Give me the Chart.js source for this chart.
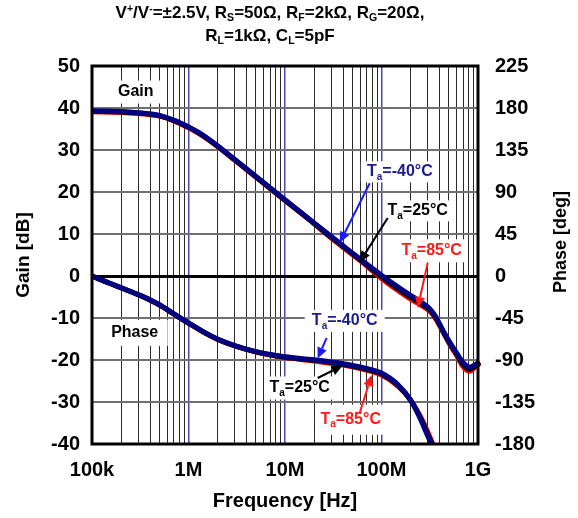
<!DOCTYPE html>
<html>
<head>
<meta charset="utf-8">
<script src="https://cdn.jsdelivr.net/npm/chart.js@4.4.1/dist/chart.umd.min.js"></script>
<style>
  html, body { margin: 0; padding: 0; background: #fff; }
  #wrap { position: relative; width: 578px; height: 518px; }
  #chart { position: absolute; left: 0; top: 0; }
  #title {
    position: absolute; left: 0; top: 1px; width: 540px; text-align: center;
    font: bold 17px "Liberation Sans", Arial, sans-serif; line-height: 23px; color: #000;
  }
  #title sub, #title sup { font-size: 0.62em; line-height: 0; }
  #title sup { vertical-align: 0.6em; }
  #title sub { vertical-align: -0.3em; }
</style>
</head>
<body>
<div id="wrap">
  <canvas id="chart" width="578" height="518"></canvas>
  <div id="title">
    <div>V<sup>+</sup>/V<sup>-</sup>=±2.5V, R<sub>S</sub>=50Ω, R<sub>F</sub>=2kΩ, R<sub>G</sub>=20Ω,</div>
    <div>R<sub>L</sub>=1kΩ, C<sub>L</sub>=5pF</div>
  </div>
</div>
<script>
// ---- axis ticks ----
const xTickValues = [1e5, 1e6, 1e7, 1e8, 1e9];
const xTickLabels = ['100k', '1M', '10M', '100M', '1G'];
const gainAxisTicks = [-40, -30, -20, -10, 0, 10, 20, 30, 40, 50];
const phaseAxisTicks = [-180, -135, -90, -45, 0, 45, 90, 135, 180, 225];

// ---- gain (dB) vs frequency (Hz) ----
const gainFreq = [1e5, 2e5, 3e5, 4e5, 5e5, 7e5, 1e6, 1.3e6, 1.6e6, 2e6,
                  3e6, 4e6, 6e6, 1e7, 2e7, 3e7, 4e7, 6e7, 1e8, 1.4e8,
                  2e8, 2.5e8, 3.16e8, 3.6e8, 4e8, 4.35e8, 5.1e8, 6e8, 7e8, 8.2e8,
                  9.25e8, 1.04e9];
const gainM40 = [39.3, 39.15, 38.9, 38.6, 38.25, 37.15, 35.5, 34.05, 32.65, 31.0,
                 27.8, 25.5, 22.25, 18.15, 12.65, 9.45, 7.2, 4.05, 0.2, -2.2,
                 -4.6, -6.0, -7.8, -9.5, -11.4, -13.0, -15.8, -18.3, -20.6, -21.7,
                 -21.2, -20.4];
const gain25 = [39.2, 39.05, 38.8, 38.5, 38.15, 37.05, 35.4, 33.95, 32.55, 30.9,
                27.7, 25.4, 22.15, 18.05, 12.55, 9.25, 7.0, 3.85, -0.2, -2.65,
                -5.05, -6.4, -8.1, -9.75, -11.6, -13.2, -16.05, -18.6, -21.1, -22.2,
                -21.5, -20.6];
const gain85 = [39.1, 38.95, 38.7, 38.4, 38.05, 36.95, 35.3, 33.85, 32.45, 30.8,
                27.6, 25.3, 22.05, 17.95, 12.45, 9.05, 6.8, 3.65, -0.6, -3.1,
                -5.5, -6.8, -8.4, -10.0, -11.8, -13.4, -16.3, -18.9, -21.6, -22.7,
                -21.8, -20.8];

// ---- phase (deg) vs frequency (Hz) ----
const phaseFreq = [1e5, 1.5e5, 2e5, 3e5, 4e5, 5e5, 7e5, 1e6, 1.5e6, 2e6, 3e6, 5e6,
                   7e6, 1e7, 2e7, 4e7, 6e7, 1e8, 1.5e8, 2e8, 2.5e8, 3e8, 3.4e8, 3.6e8];
const phaseM40 = [0, -7.5, -12.5, -19.8, -25.5, -30.8, -40.2, -50.2, -61, -67.5, -74.5, -81,
                  -84, -86.5, -89.8, -94, -97.5, -104, -117, -133, -152, -171, -184, -194];
const phase25 = [0, -7.55, -12.6, -19.95, -25.7, -31.0, -40.4, -50.4, -61.2, -67.7, -74.7, -81.3,
                 -84.4, -87, -90.4, -94.8, -98.4, -105, -117.8, -133, -150.7, -168.8, -182, -190];
const phase85 = [0, -7.6, -12.7, -20.1, -25.9, -31.2, -40.7, -50.7, -61.5, -68, -75, -81.6,
                 -84.8, -87.4, -91, -95.5, -99.3, -106.2, -118.5, -133, -149.5, -166.5, -180, -187];

const FONT = '"Liberation Sans", Arial, sans-serif';
const NAVY = '#000080', RED = '#ff0000', BLACK = '#000000';

const pts = (xs, ys) => xs.map((x, i) => ({ x, y: ys[i] }));

// every 1..9 multiple inside each decade for the vertical grid
const xGrid = [];
for (let i = 0; i < xTickValues.length - 1; i++) {
  for (let m = 1; m <= 9; m++) xGrid.push(m * xTickValues[i]);
}
xGrid.push(xTickValues[xTickValues.length - 1]);

function series(label, color, data, axis, extra) {
  return Object.assign({
    label, data, yAxisID: axis,
    borderColor: color, backgroundColor: color,
    borderWidth: 5, pointRadius: 0, fill: false,
    cubicInterpolationMode: 'monotone'
  }, extra || {});
}

const gainClip = { left: 3, top: 3, right: 6, bottom: 3 };

// text callouts with arrows, placed in data coordinates
const callouts = [
  { parts: ['Gain'], axis: 'y', at: [2.84e5, 43.8], color: '#000', box: [55, 23] },
  { parts: ['Phase'], axis: 'y2', at: [2.77e5, -61], color: '#000', box: [66, 26] },
  { parts: ['T', 'a', '=-40°C'], axis: 'y', at: [1.55e8, 24.8], color: '#1c1c8c', box: [78, 21],
    arrow: { from: [7.55e7, 22.1], to: [3.69e7, 7.9], color: '#1a1aff' } },
  { parts: ['T', 'a', '=25°C'], axis: 'y', at: [2.37e8, 15.5], color: '#000', box: [68, 21],
    arrow: { from: [1.16e8, 13.8], to: [5.94e7, 3.3], color: '#000' } },
  { parts: ['T', 'a', '=85°C'], axis: 'y', at: [3.31e8, 6.0], color: '#ff1a1a', box: [70, 23],
    arrow: { from: [3.01e8, 3.1], to: [2.37e8, -7.6], color: '#ff1a1a' } },
  { parts: ['T', 'a', '=-40°C'], axis: 'y2', at: [4.16e7, -48], color: '#1c1c8c', box: [80, 22],
    arrow: { from: [2.7e7, -66.4], to: [2.18e7, -88.5], color: '#1a1aff' } },
  { parts: ['T', 'a', '=25°C'], axis: 'y2', at: [1.42e7, -120], color: '#000', box: [70, 23],
    arrow: { from: [2.18e7, -109.3], to: [3.96e7, -96], color: '#000' } },
  { parts: ['T', 'a', '=85°C'], axis: 'y2', at: [4.8e7, -154], color: '#ff1a1a', box: [70, 30],
    arrow: { from: [5.94e7, -146.8], to: [7.9e7, -106], color: '#ff1a1a' } }
];

function drawParts(ctx, parts, cx, cy, color) {
  const main = 'bold 16px ' + FONT, small = 'bold 10px ' + FONT;
  const fonts = parts.length === 3 ? [main, small, main] : [main];
  const widths = parts.map((p, i) => { ctx.font = fonts[i]; return ctx.measureText(p).width; });
  const total = widths.reduce((a, b) => a + b, 0);
  let x = cx - total / 2;
  ctx.fillStyle = color;
  ctx.textAlign = 'left';
  ctx.textBaseline = 'middle';
  parts.forEach((p, i) => {
    ctx.font = fonts[i];
    ctx.fillText(p, x, cy + (parts.length === 3 && i === 1 ? 5 : 0));
    x += widths[i];
  });
}

function drawArrow(ctx, x0, y0, x1, y1, color) {
  const ang = Math.atan2(y1 - y0, x1 - x0);
  const L = 11, W = 5;
  const bx = x1 - L * Math.cos(ang), by = y1 - L * Math.sin(ang);
  ctx.strokeStyle = color;
  ctx.fillStyle = color;
  ctx.lineWidth = 2;
  ctx.beginPath();
  ctx.moveTo(x0, y0);
  ctx.lineTo(bx, by);
  ctx.stroke();
  ctx.beginPath();
  ctx.moveTo(x1, y1);
  ctx.lineTo(bx + W * Math.sin(ang), by - W * Math.cos(ang));
  ctx.lineTo(bx - W * Math.sin(ang), by + W * Math.cos(ang));
  ctx.closePath();
  ctx.fill();
}

const decorations = {
  id: 'decorations',
  beforeDatasetsDraw(chart) {
    const { ctx, scales } = chart;
    ctx.save();
    for (const c of callouts) {
      const px = scales.x.getPixelForValue(c.at[0]);
      const py = scales[c.axis].getPixelForValue(c.at[1]);
      ctx.fillStyle = '#fff';
      ctx.fillRect(px - c.box[0] / 2, py - c.box[1] / 2, c.box[0], c.box[1]);
      drawParts(ctx, c.parts, px, py, c.color);
    }
    ctx.restore();
  },
  afterDatasetsDraw(chart) {
    const { ctx, scales, chartArea: a } = chart;
    ctx.save();
    for (const c of callouts) {
      if (!c.arrow) continue;
      const s = scales[c.axis];
      drawArrow(ctx,
        scales.x.getPixelForValue(c.arrow.from[0]), s.getPixelForValue(c.arrow.from[1]),
        scales.x.getPixelForValue(c.arrow.to[0]), s.getPixelForValue(c.arrow.to[1]),
        c.arrow.color);
    }
    // plot frame
    ctx.strokeStyle = '#000';
    ctx.lineWidth = 3;
    ctx.strokeRect(a.left, a.top, a.right - a.left, a.bottom - a.top);
    // right axis title, reading bottom to top
    ctx.translate(561, (a.top + a.bottom) / 2 - 13);
    ctx.rotate(-Math.PI / 2);
    ctx.font = 'bold 18px ' + FONT;
    ctx.fillStyle = '#000';
    ctx.textAlign = 'center';
    ctx.textBaseline = 'middle';
    ctx.fillText('Phase [deg]', 0, 0);
    ctx.restore();
  }
};

const tickFont = { family: FONT, size: 20, weight: 'bold' };

new Chart(document.getElementById('chart'), {
  type: 'line',
  data: {
    datasets: [
      series('Ta=-40°C gain', NAVY, pts(gainFreq, gainM40), 'y', { clip: gainClip }),
      series('Ta=-40°C phase', NAVY, pts(phaseFreq, phaseM40), 'y2'),
      series('Ta=25°C gain', BLACK, pts(gainFreq, gain25), 'y', { clip: gainClip }),
      series('Ta=25°C phase', BLACK, pts(phaseFreq, phase25), 'y2'),
      series('Ta=85°C gain', RED, pts(gainFreq, gain85), 'y', { clip: gainClip }),
      series('Ta=85°C phase', RED, pts(phaseFreq, phase85), 'y2')
    ]
  },
  options: {
    responsive: false,
    animation: false,
    devicePixelRatio: 1,
    layout: { padding: { top: 66, left: 0, right: 0, bottom: 0 } },
    plugins: { legend: { display: false }, tooltip: { enabled: false } },
    scales: {
      x: {
        type: 'logarithmic',
        min: xTickValues[0],
        max: xTickValues[xTickValues.length - 1],
        afterBuildTicks: s => { s.ticks = xGrid.map(v => ({ value: v })); },
        afterFit: s => { s.height = 74; },
        ticks: {
          autoSkip: false, maxRotation: 0, minRotation: 0, padding: 14,
          font: tickFont, color: '#000',
          callback: v => { const i = xTickValues.indexOf(v); return i >= 0 ? xTickLabels[i] : ''; }
        },
        grid: {
          drawTicks: false,
          color: c => xTickValues.includes(c.tick.value) ? '#4848b0' : '#2a2a2a',
          lineWidth: c => xTickValues.includes(c.tick.value) ? 1.5 : 1
        },
        border: { display: false },
        title: { display: true, text: 'Frequency [Hz]', font: tickFont, color: '#000', padding: { top: 0, bottom: 5 } }
      },
      y: {
        type: 'linear', position: 'left',
        min: gainAxisTicks[0], max: gainAxisTicks[gainAxisTicks.length - 1],
        afterFit: s => { s.width = 92; },
        ticks: { stepSize: gainAxisTicks[1] - gainAxisTicks[0], padding: 12, font: tickFont, color: '#000' },
        grid: {
          drawTicks: false,
          color: c => c.tick.value === 0 ? '#000' : '#707070',
          lineWidth: c => c.tick.value === 0 ? 3 : 2
        },
        border: { display: false },
        title: { display: true, text: 'Gain [dB]', font: { family: FONT, size: 19, weight: 'bold' }, color: '#000', padding: { top: 12 } }
      },
      y2: {
        type: 'linear', position: 'right',
        min: phaseAxisTicks[0], max: phaseAxisTicks[phaseAxisTicks.length - 1],
        afterFit: s => { s.width = 100; },
        ticks: { stepSize: phaseAxisTicks[1] - phaseAxisTicks[0], padding: 17, font: tickFont, color: '#000' },
        grid: { display: false, drawTicks: false },
        border: { display: false }
      }
    }
  },
  plugins: [decorations]
});
</script>
</body>
</html>
